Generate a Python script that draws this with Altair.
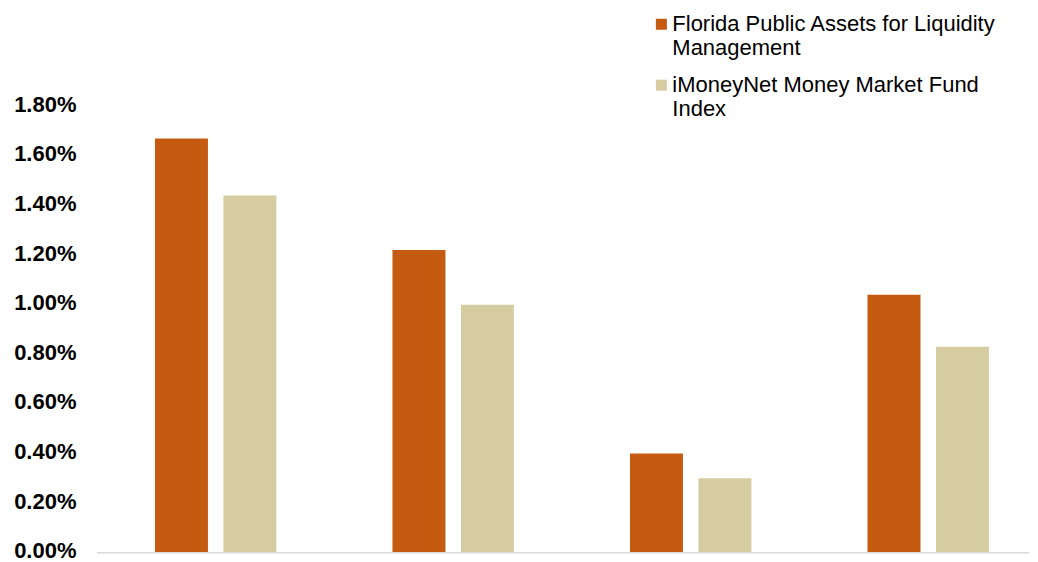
import altair as alt
import pandas as pd

periods = ["Period 1", "Period 2", "Period 3", "Period 4"]
series = ["Florida Public Assets for Liquidity|Management", "iMoneyNet Money Market Fund|Index"]
palm = [1.67, 1.22, 0.40, 1.04]
imoney = [1.44, 1.00, 0.30, 0.83]
colors = ["#C55A11", "#D5CCA1"]
y_ticks = [0.0, 0.2, 0.4, 0.6, 0.8, 1.0, 1.2, 1.4, 1.6, 1.8]

rows = []
for i, p in enumerate(periods):
    rows.append({"period": p, "series": series[0], "value": palm[i] / 100})
    rows.append({"period": p, "series": series[1], "value": imoney[i] / 100})
df = pd.DataFrame(rows)

W = 933
H = 447

bars = alt.Chart(df).mark_bar().encode(
    x=alt.X("period:N", sort=periods, axis=None,
            scale=alt.Scale(range=[0, 951], paddingInner=0, paddingOuter=0)),
    xOffset=alt.XOffset("series:N", sort=series,
                        scale=alt.Scale(paddingInner=0.226, paddingOuter=0.848)),
    y=alt.Y("value:Q",
            scale=alt.Scale(domain=[0, 0.018], nice=False),
            axis=alt.Axis(values=[round(v / 100, 6) for v in y_ticks], format=".2%", title=None,
                          grid=False, domain=False, ticks=False, labelPadding=21,
                          labelOffset=-2,
                          labelFont="Liberation Sans", labelFontSize=22,
                          labelFontWeight="bold", labelColor="#000000")),
    color=alt.Color("series:N", sort=series,
                    scale=alt.Scale(domain=series, range=colors),
                    legend=alt.Legend(title=None, orient="none", legendX=554, legendY=-93,
                                      direction="vertical", symbolType="square",
                                      symbolSize=121, symbolStrokeWidth=0,
                                      labelFont="Liberation Sans", labelFontSize=22,
                                      labelColor="#000000", labelOffset=0,
                                      labelLimit=0, rowPadding=15,
                                      labelExpr="split(datum.label, '|')")),
)

baseline = alt.Chart(pd.DataFrame({"v": [0]})).mark_rule(color="#D9D9D9", strokeWidth=1.5).encode(
    y=alt.Y("v:Q"),
    x=alt.value(0),
    x2=alt.value(W),
)

chart = alt.layer(bars, baseline).properties(
    width=W, height=H,
    padding={"left": 5, "top": 5, "right": 0, "bottom": 0},
).configure_view(stroke=None)

chart.save("out.html", embed_options={"renderer": "svg", "actions": False})
